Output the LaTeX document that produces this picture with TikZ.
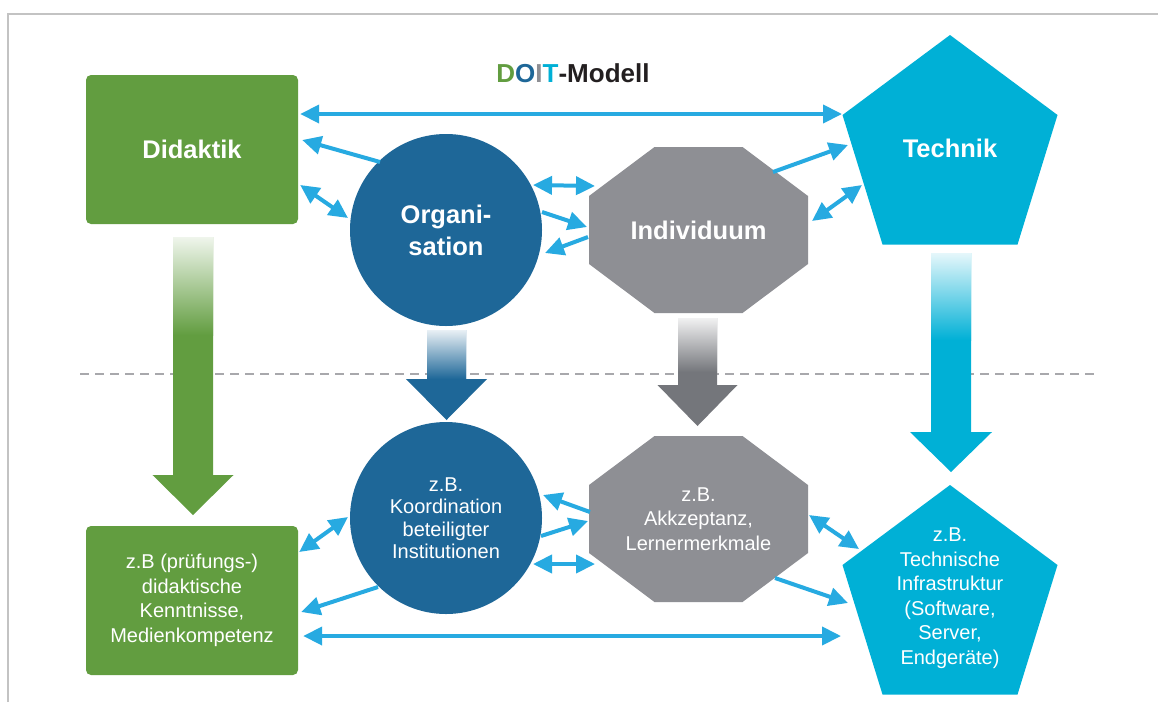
\documentclass[tikz,border=0pt]{standalone}
\usepackage{fontspec}
\setmainfont{Liberation Sans}
\usetikzlibrary{arrows.meta,calc}
\definecolor{dgreen}{RGB}{98,157,64}
\definecolor{dblue}{RGB}{30,103,152}
\definecolor{ogray}{RGB}{142,143,148}
\definecolor{agray}{RGB}{116,118,123}
\definecolor{tcyan}{RGB}{0,176,214}
\definecolor{cblue}{RGB}{39,170,225}
\definecolor{dashgray}{RGB}{168,168,172}
\definecolor{framegray}{RGB}{195,195,195}
\definecolor{titleblack}{RGB}{35,31,32}
\tikzset{
 ttl/.style={text=white, font=\fontsize{25.5}{32}\selectfont\bfseries, align=center, inner sep=0pt},
 txt/.style={text=white, font=\fontsize{20}{24.5}\selectfont, align=center, inner sep=0pt},
 conn/.style={draw=cblue, line width=4pt, -{Triangle[length=19pt,width=18pt]}},
 conn2/.style={draw=cblue, line width=4pt, {Triangle[length=19pt,width=18pt]}-{Triangle[length=19pt,width=18pt]}},
 boxnode/.style={fill=dgreen, rounded corners=5pt, minimum width=212pt, minimum height=149pt},
 circnode/.style={circle, fill=dblue, minimum size=192pt},
}
\newcommand{\bigarr}[8]{%
  \fill[#1] (#2-#6,#3) -- (#2+#6,#3) -- (#2+#6,#4) -- (#2+#7,#4) -- (#2,#5) -- (#2-#7,#4) -- (#2-#6,#4) -- cycle;
  \shade[top color=#1!10, bottom color=#1] (#2-#6,#3) rectangle (#2+#6,#8);}
\newcommand{\octofill}[1]{%
  \fill[ogray, shift={(#1)}] (-44,-83) -- (44,-83) -- (109.5,-34) -- (109.5,34) -- (44,83) -- (-44,83) -- (-109.5,34) -- (-109.5,-34) -- cycle;}
\newcommand{\pentafill}[1]{%
  \fill[tcyan, shift={(#1)}] (0,-113) -- (107.5,-33) -- (67.5,96.5) -- (-67.5,96.5) -- (-107.5,-33) -- cycle;}
\begin{document}
\begin{tikzpicture}[x=1pt,y=-1pt]
\useasboundingbox (0,0) rectangle (1158,702);
\fill[white] (0,0) rectangle (1158,702);
% frame
\draw[framegray, line width=2pt] (8,702) -- (8,14) -- (1158,14);
% separator
\draw[dashgray, line width=2pt, dash pattern=on 9pt off 6pt] (80,374) -- (1095,374);
% big arrows
\bigarr{dgreen}{193}{237}{475}{515}{20}{40.5}{335}
\bigarr{dblue}{446.5}{330}{379}{420}{19.5}{40.5}{379}
\bigarr{agray}{697.5}{318}{385}{426}{19.5}{40}{372}
\bigarr{tcyan}{951}{253}{432}{472}{20}{41}{340}
% shape centres
\coordinate (indc) at (698.5,230);
\coordinate (tecc) at (950,148);
\coordinate (ind2c) at (698.5,519);
\coordinate (tec2c) at (950,598);
\octofill{indc}
\octofill{ind2c}
\pentafill{tecc}
\pentafill{tec2c}
% title
\node[font=\fontsize{26}{30}\selectfont\bfseries, text=titleblack] (title) at (573,73)
  {\textcolor{dgreen}{D}\textcolor{dblue}{O}\textcolor{ogray}{I}\textcolor{tcyan}{T}-Modell};
% top row
\node[boxnode, ttl] (did) at (192,149.5) {Didaktik};
\node[circnode, ttl] (org) at (446,230) {Organi-\\sation};
\node[ttl] (ind) at (indc) {Individuum};
\node[ttl] (tec) at (tecc) {Technik};
% bottom row
\node[boxnode, txt] (did2) at (192,600.5) {z.B (prüfungs-)\\didaktische\\Kenntnisse,\\Medienkompetenz};
\node[circnode, txt, font=\fontsize{20}{22.5}\selectfont] (org2) at (446,518) {z.B.\\Koordination\\beteiligter\\Institutionen};
\node[txt] (ind2) at (ind2c) {z.B.\\Akkzeptanz,\\Lernermerkmale};
\node[txt] (tec2) at (tec2c) {z.B.\\Technische\\Infrastruktur\\(Software,\\Server,\\Endgeräte)};
% connectors top
\draw[conn2] ($(did.east)+(2,-35.5)$) -- ($(tec)+(-108,-34)$);
\draw[conn] ($(org)+(-66,-68)$) -- ($(did.east)+(4,-9.5)$);
\draw[conn2] ($(did.east)+(2,35.5)$) -- ($(org)+(-98,-12)$);
\draw[conn2] ($(org)+(87,-45)$) -- ($(ind)+(-103.5,-44)$);
\draw[conn] ($(org)+(96,-18)$) -- ($(ind)+(-111.5,-3)$);
\draw[conn] ($(ind)+(-110.5,7)$) -- ($(org)+(99,23)$);
\draw[conn] ($(ind)+(74.5,-58)$) -- ($(tec)+(-102,-3)$);
\draw[conn2] ($(ind)+(113.5,-9)$) -- ($(tec)+(-88,37)$);
% connectors bottom
\draw[conn2] ($(did2.east)+(1,-48.5)$) -- ($(org2)+(-98,-1)$);
\draw[conn] ($(org2)+(-68,69)$) -- ($(did2.east)+(3,11.5)$);
\draw[conn2] ($(did2.east)+(5,35.5)$) -- ($(tec2)+(-109,38)$);
\draw[conn] ($(ind2)+(-108.5,-7)$) -- ($(org2)+(97,-23)$);
\draw[conn] ($(org2)+(95,18)$) -- ($(ind2)+(-110.5,2)$);
\draw[conn2] ($(org2)+(87,46)$) -- ($(ind2)+(-103.5,45)$);
\draw[conn2] ($(ind2)+(110.5,-4)$) -- ($(tec2)+(-91,-49)$);
\draw[conn] ($(ind2)+(76.5,59)$) -- ($(tec2)+(-102,5)$);
\end{tikzpicture}
\end{document}
